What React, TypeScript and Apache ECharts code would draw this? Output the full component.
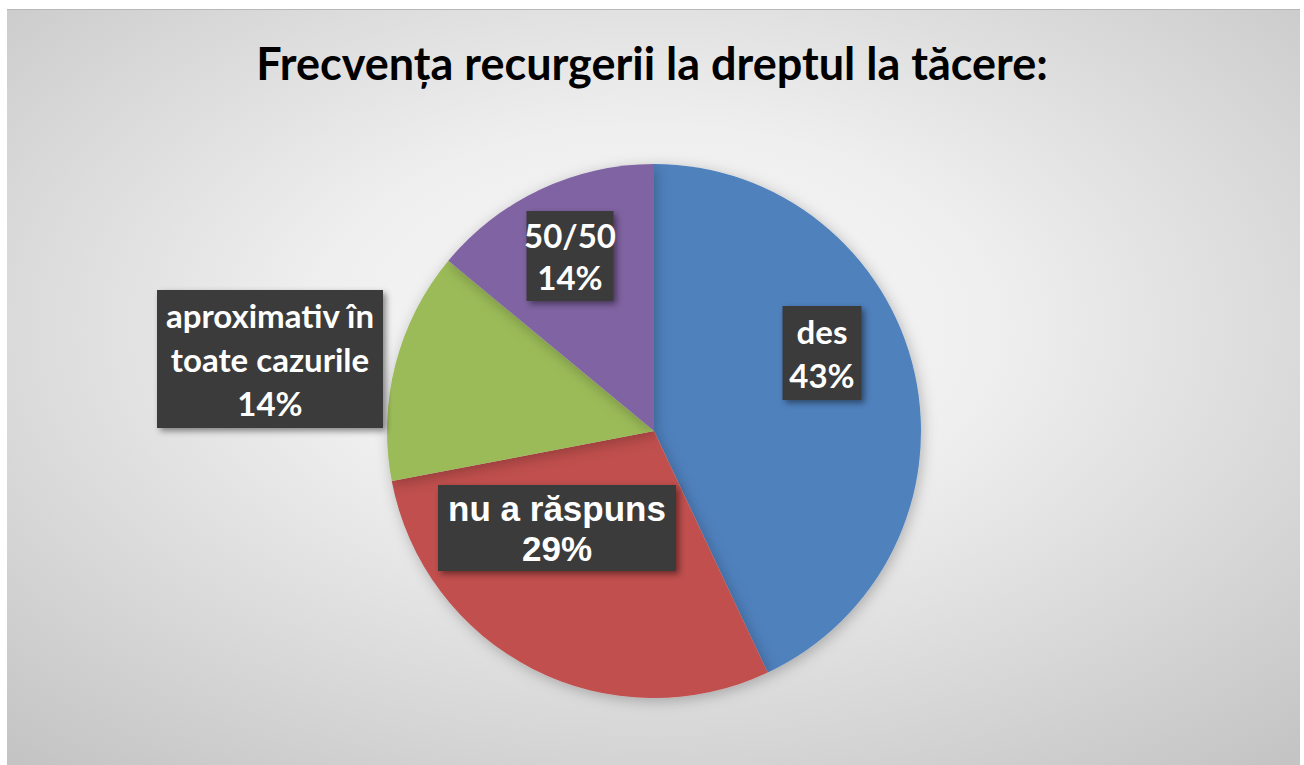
import React, { useEffect, useRef } from "react";
import * as echarts from "echarts";

const TITLE = "Frecvența recurgerii la dreptul la tăcere:";
const CATEGORIES = ["des", "nu a răspuns", "aproximativ în\ntoate cazurile", "50/50"];
const VALUES = [43, 29, 14, 14];
const COLORS = ["#4f81bd", "#c0504d", "#9bbb59", "#8064a2"];
const LABEL_FONTS = ["Lato", "Liberation Sans", "Lato", "Lato"];
const LABEL_SIZES = [33, 35, 33, 33];
const LABEL_LINE_HEIGHTS = [44, 40, 44, 42];
const LABEL_POS = [
  [822, 353],
  [557, 528],
  [270, 359],
  [570, 256],
];
const LABEL_WIDTHS = [63, 222, 210, 71];

export default function App() {
  const ref = useRef<HTMLDivElement>(null);
  useEffect(() => {
    if (!ref.current) return;
    const chart = echarts.init(ref.current, undefined, { renderer: "svg" });
    chart.setOption({
      animation: false,
      backgroundColor: "#ffffff",
      title: {
        text: TITLE,
        left: "center",
        top: 35,
        textStyle: {
          fontFamily: "Lato",
          fontWeight: "bold",
          fontSize: 45,
          color: "#000000",
        },
      },
      graphic: [
        {
          type: "rect",
          z: -10,
          silent: true,
          shape: { x: 7, y: 9, width: 1293, height: 760 },
          style: {
            fill: {
              type: "radial",
              x: 0.5,
              y: 0.42,
              r: 0.75,
              colorStops: [
                { offset: 0, color: "#f8f8f8" },
                { offset: 0.35, color: "#efefef" },
                { offset: 1, color: "#c4c4c4" },
              ],
            },
          },
        },
        {
          type: "line",
          z: -9,
          silent: true,
          shape: { x1: 7, y1: 9.5, x2: 1300, y2: 9.5 },
          style: { stroke: "#b8b8b8", lineWidth: 1 },
        },
      ],
      series: [
        {
          type: "pie",
          center: [654, 431],
          radius: 267,
          startAngle: 90,
          clockwise: true,
          silent: true,
          itemStyle: {
            shadowBlur: 14,
            shadowColor: "rgba(0,0,0,0.25)",
            shadowOffsetX: 2,
            shadowOffsetY: 3,
          },
          labelLine: { show: false },
          label: {
            show: true,
            position: "inside",
            formatter: (p: any) => `${p.name}\n${p.value}%`,
            color: "#ffffff",
            fontWeight: "bold",
            align: "center",
            overflow: "none",
            backgroundColor: "#3a3a3a",
            padding: [3, 8, 3, 8],
            shadowColor: "rgba(0,0,0,0.45)",
            shadowBlur: 6,
            shadowOffsetX: 3,
            shadowOffsetY: 3,
          },
          labelLayout: (params: any) => {
            const i = params.dataIndex;
            return {
              x: LABEL_POS[i][0],
              y: LABEL_POS[i][1],
              align: "center",
              verticalAlign: "middle",
            };
          },
          data: CATEGORIES.map((name, i) => ({
            name,
            value: VALUES[i],
            itemStyle: { color: COLORS[i] },
            label: {
              fontFamily: LABEL_FONTS[i],
              width: LABEL_WIDTHS[i],
              fontSize: LABEL_SIZES[i],
              lineHeight: LABEL_LINE_HEIGHTS[i],
            },
          })),
        },
      ],
    });
    return () => chart.dispose();
  }, []);
  return (
    <div
      ref={ref}
      style={{ position: "absolute", left: 0, top: 0, width: 1304, height: 765 }}
    />
  );
}
